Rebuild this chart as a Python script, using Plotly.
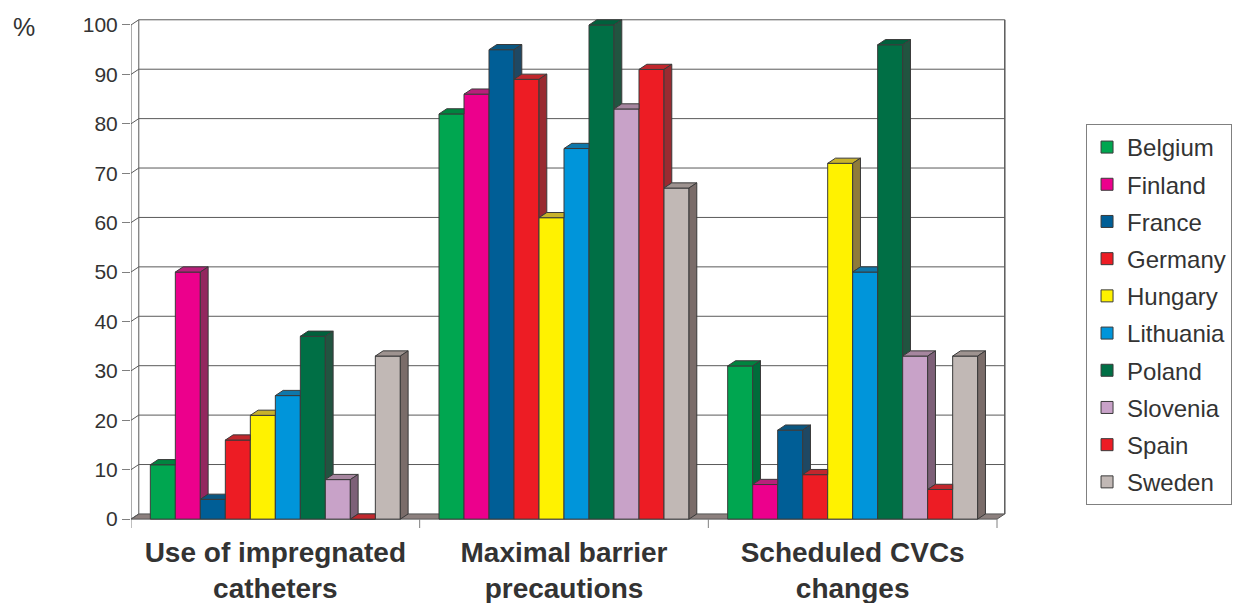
import plotly.graph_objects as go

# ---- data -------------------------------------------------------------
categories = ["Use of impregnated<br>catheters",
              "Maximal barrier<br>precautions",
              "Scheduled CVCs<br>changes"]
countries = ["Belgium", "Finland", "France", "Germany", "Hungary",
             "Lithuania", "Poland", "Slovenia", "Spain", "Sweden"]
belgium = [11, 82, 31]
finland = [50, 86, 7]
france = [4, 95, 18]
germany = [16, 89, 9]
hungary = [21, 61, 72]
lithuania = [25, 75, 50]
poland = [37, 100, 96]
slovenia = [8, 83, 33]
spain = [0, 91, 6]
sweden = [33, 67, 33]
y_ticks = list(range(0, 101, 10))

series = [belgium, finland, france, germany, hungary,
          lithuania, poland, slovenia, spain, sweden]

# ---- styling ----------------------------------------------------------
front_colors = ["#00A650", "#EC008C", "#005E96", "#ED1C24", "#FFF200",
                "#0095DA", "#006F45", "#C8A2C8", "#ED1C24", "#C1B8B5"]
top_colors = ["#00843F", "#B8207A", "#0A5680", "#C1272D", "#C8B22B",
              "#0E77AA", "#00603C", "#A6869F", "#C1272D", "#9E9390"]
side_colors = ["#006B3A", "#93275F", "#1F4863", "#992B31", "#8F7B3A",
               "#0B5F88", "#215440", "#7D6078", "#992B31", "#7A6C69"]
edge = "#3A3A3A"
text_color = "#333333"
font_family = "Arial, Liberation Sans, sans-serif"

n_series = len(series)
n_cat = len(categories)
bargap = 0.134
bar_w = (1 - bargap) / n_series
dx = 0.027          # depth offset along x (category units)
dh = 1.05           # depth offset along y (value units)

x_lo, x_hi = -0.5, n_cat - 0.5
cat_pos = list(range(n_cat))

fig = go.Figure()

# front faces: ordinary grouped bars
for s, (name, vals) in enumerate(zip(countries, series)):
    fig.add_trace(go.Bar(
        x=cat_pos, y=vals, name=name, legendgroup=name,
        marker=dict(color=front_colors[s], line=dict(color=edge, width=1)),
        hovertemplate=name + ": %{y}%<extra></extra>",
    ))

# top and side faces of each column, hidden where the next column covers them
for c in range(n_cat):
    for s in range(n_series):
        v = series[s][c]
        nxt = series[s + 1][c] if s + 1 < n_series else 0
        xl = c - (1 - bargap) / 2 + s * bar_w
        xr = xl + bar_w
        cut = min(max(nxt, v), v + dh)
        top_x = [xl, xr, xr, xr + dx * (v + dh - cut) / dh, xl + dx, xl]
        top_y = [v, v, cut, v + dh, v + dh, v]
        fig.add_trace(go.Scatter(
            x=top_x, y=top_y, mode="lines", fill="toself",
            fillcolor=top_colors[s], line=dict(color=edge, width=1),
            showlegend=False, hoverinfo="skip"))
        if nxt <= v:
            side_x = [xr, xr + dx, xr + dx, xr, xr]
            side_y = [nxt, nxt + dh, v + dh, v, nxt]
            fig.add_trace(go.Scatter(
                x=side_x, y=side_y, mode="lines", fill="toself",
                fillcolor=side_colors[s], line=dict(color=edge, width=1),
                showlegend=False, hoverinfo="skip"))

# ---- walls, floor and axes drawn as shapes --------------------------------
shapes = []
# floor slab
shapes.append(dict(
    type="path", xref="x", yref="y", layer="below",
    path=f"M{x_lo},0 L{x_hi},0 L{x_hi + dx},{dh} L{x_lo + dx},{dh} Z",
    fillcolor="#8C807E", line=dict(color="#555555", width=1)))
# back-wall gridlines and the diagonal tick connectors on the side wall
for v in y_ticks:
    if v > 0:
        shapes.append(dict(type="line", xref="x", yref="y", layer="below",
                           x0=x_lo + dx, x1=x_hi + dx, y0=v + dh, y1=v + dh,
                           line=dict(color="#5A5A5A", width=1)))
    shapes.append(dict(type="line", xref="x", yref="y", layer="below",
                       x0=x_lo, x1=x_lo + dx, y0=v, y1=v + dh,
                       line=dict(color="#5A5A5A", width=1)))
# wall edges
shapes.append(dict(type="line", xref="x", yref="y", layer="below",
                   x0=x_lo + dx, x1=x_lo + dx, y0=dh, y1=100 + dh,
                   line=dict(color="#5A5A5A", width=1)))
shapes.append(dict(type="line", xref="x", yref="y", layer="below",
                   x0=x_hi + dx, x1=x_hi + dx, y0=dh, y1=100 + dh,
                   line=dict(color="#5A5A5A", width=1.5)))
# front value axis
shapes.append(dict(type="line", xref="x", yref="y",
                   x0=x_lo, x1=x_lo, y0=0, y1=100,
                   line=dict(color="#5A5A5A", width=1)))
# category boundary ticks
for b in range(n_cat + 1):
    shapes.append(dict(type="line", xref="x", yref="y",
                       x0=x_lo + b, x1=x_lo + b, y0=0, y1=-1.8,
                       line=dict(color="#808080", width=1)))

fig.update_layout(
    width=1233, height=603,
    margin=dict(l=131, r=223, t=15, b=74, autoexpand=False),
    paper_bgcolor="white", plot_bgcolor="white",
    barmode="group", bargap=bargap, bargroupgap=0,
    font=dict(family=font_family, color=text_color),
    shapes=shapes,
    xaxis=dict(range=[x_lo, x_hi + 0.045], tickvals=cat_pos, ticktext=categories,
               ticks="", showgrid=False, zeroline=False, showline=False,
               ticklabelstandoff=4,
               tickfont=dict(size=28, color=text_color,
                             family=font_family, weight="bold")),
    yaxis=dict(range=[-2, 102.02], tickvals=y_ticks, ticks="outside",
               ticklen=8, tickcolor="#808080", tickwidth=1,
               showgrid=False, zeroline=False, showline=False,
               tickfont=dict(size=21, color=text_color)),
    legend=dict(x=1.0865, y=0.788, xanchor="left", yanchor="top",
                bgcolor="white", bordercolor="#808080", borderwidth=1,
                font=dict(size=24, color=text_color), tracegroupgap=3,
                traceorder="grouped"),
    annotations=[dict(text="%", xref="paper", yref="paper",
                      x=-0.122, y=0.976, xanchor="center", yanchor="middle",
                      showarrow=False, font=dict(size=25, color=text_color))],
)

fig.write_html("out.html")
